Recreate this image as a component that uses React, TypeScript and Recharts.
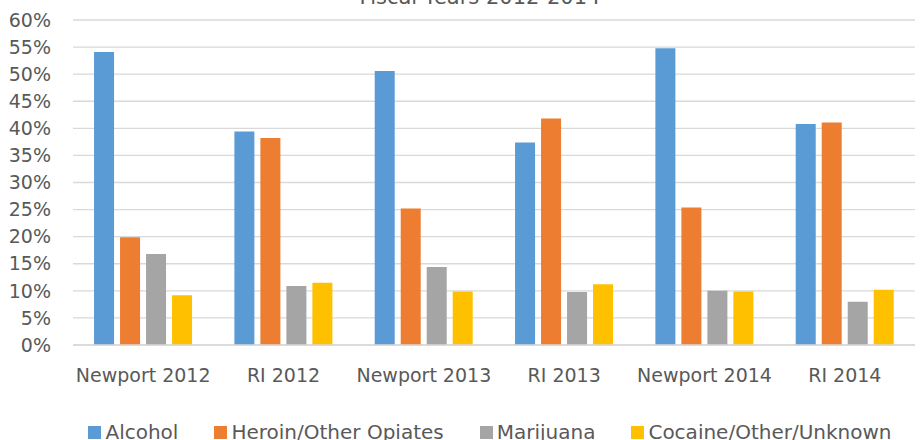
import { Bar, BarChart, CartesianGrid, XAxis, YAxis } from 'recharts';

const CATEGORIES = ['Newport 2012', 'RI 2012', 'Newport 2013', 'RI 2013', 'Newport 2014', 'RI 2014'];
const ALCOHOL = [54.1, 39.4, 50.6, 37.4, 54.8, 40.8];
const HEROIN = [19.9, 38.2, 25.2, 41.8, 25.4, 41.1];
const MARIJUANA = [16.8, 10.9, 14.4, 9.8, 10.0, 8.0];
const COCAINE = [9.2, 11.5, 9.9, 11.2, 9.9, 10.2];
const Y_TICKS = [0, 5, 10, 15, 20, 25, 30, 35, 40, 45, 50, 55, 60];

const SERIES = [
  { key: 'alcohol', name: 'Alcohol', color: '#5B9BD5' },
  { key: 'heroin', name: 'Heroin/Other Opiates', color: '#ED7D31' },
  { key: 'marijuana', name: 'Marijuana', color: '#A5A5A5' },
  { key: 'cocaine', name: 'Cocaine/Other/Unknown', color: '#FFC000' },
];

const data = CATEGORIES.map((name, i) => ({
  name,
  alcohol: ALCOHOL[i],
  heroin: HEROIN[i],
  marijuana: MARIJUANA[i],
  cocaine: COCAINE[i],
}));

const FONT = '"DejaVu Sans", sans-serif';
const TEXT = '#595959';

export default function App() {
  return (
    <div style={{ position: 'absolute', left: 0, top: 0, width: 920, height: 440, overflow: 'hidden', fontFamily: FONT }}>
      <div
        style={{
          position: 'absolute',
          left: 80,
          width: 800,
          top: -15,
          textAlign: 'center',
          fontSize: 21,
          lineHeight: '24px',
          color: TEXT,
        }}
      >
        Fiscal Years 2012-2014
      </div>
      <BarChart
        width={920}
        height={440}
        data={data}
        margin={{ top: 20, right: 5, left: 0, bottom: 65 }}
        barCategoryGap='15%'
        barGap={6}
      >
        <CartesianGrid vertical={false} stroke='#d9d9d9' strokeWidth={1.3} />
        <XAxis
          dataKey='name'
          height={30}
          tickLine={false}
          tickSize={6}
          tickMargin={18}
          axisLine={{ stroke: '#d9d9d9', strokeWidth: 1.5 }}
          tick={{ fill: TEXT, fontSize: 19, fontFamily: FONT }}
          interval={0}
        />
        <YAxis
          width={73}
          domain={[0, 60]}
          ticks={Y_TICKS}
          tickFormatter={(v: number) => `${v}%`}
          axisLine={false}
          tickLine={false}
          tickSize={6}
          tickMargin={16}
          tick={{ fill: TEXT, fontSize: 19, fontFamily: FONT }}
          interval={0}
        />
        {SERIES.map((s) => (
          <Bar key={s.key} dataKey={s.key} name={s.name} fill={s.color} isAnimationActive={false} />
        ))}
      </BarChart>
      <div
        style={{
          position: 'absolute',
          left: 0,
          width: 920,
          top: 420,
          display: 'flex',
          justifyContent: 'center',
          paddingLeft: 60,
          boxSizing: 'border-box',
          gap: 36,
          fontSize: 20,
          lineHeight: '24px',
          color: TEXT,
        }}
      >
        {SERIES.map((s) => (
          <div key={s.key} style={{ display: 'flex', alignItems: 'center' }}>
            <span style={{ display: 'inline-block', width: 13, height: 13, background: s.color, marginRight: 4 }} />
            <span>{s.name}</span>
          </div>
        ))}
      </div>
    </div>
  );
}
